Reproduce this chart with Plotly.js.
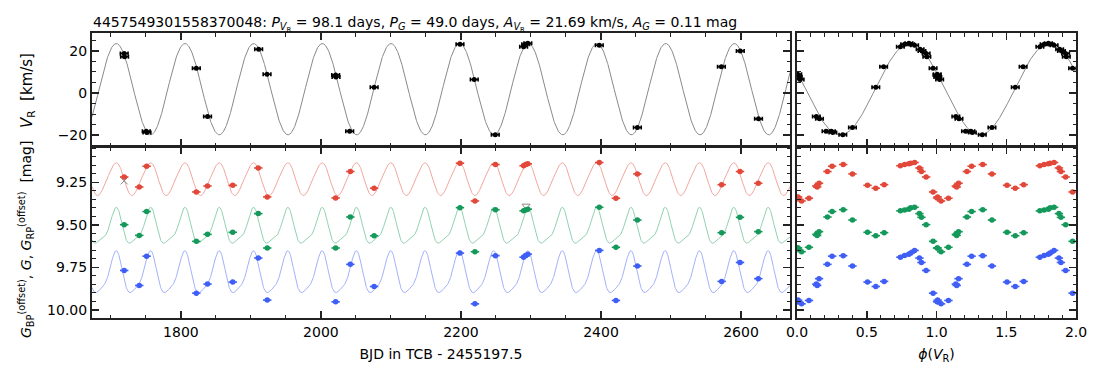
<!DOCTYPE html>
<html><head><meta charset="utf-8">
<script src="https://cdn.plot.ly/plotly-3.0.1.min.js"></script>
<style>html,body{margin:0;padding:0;background:#fff}#chart{width:1102px;height:383px}</style>
</head><body><div id="chart"></div>
<script>
// ---- data ----
const RV_TIME = [1719, 1719.5, 1750.5, 1751.5, 1822, 1838, 1911, 1923, 2021, 2021.5, 2041, 2076, 2198.6, 2219, 2249, 2289.5, 2292.5, 2295.5, 2397.6, 2452, 2572, 2599, 2625];
const RV_VALUE = [18.8, 17.2, -18.2, -18.8, 11.7, -11.2, 20.8, 8.9, 8.6, 7.6, -18.2, 2.7, 23.2, 6.4, -19.8, 22.0, 23.2, 23.6, 22.7, -16.4, 12.5, 20.0, -12.3];

const PHOT_TIME = [1719, 1740.5, 1751, 1822, 1838, 1874, 1910.5, 1923.3, 2021, 2042, 2076, 2198.6, 2220, 2249.3, 2289.5, 2292.5, 2295.5, 2397.6, 2421.4, 2452, 2572.4, 2598.6, 2624.7];
const MAG_RP = [9.219, 9.278, 9.156, 9.307, 9.272, 9.268, 9.166, 9.336, 9.342, 9.187, 9.285, 9.138, 9.360, 9.146, 9.153, 9.146, 9.142, 9.134, 9.344, 9.201, 9.264, 9.187, 9.256];
const MAG_G  = [9.499, 9.562, 9.422, 9.597, 9.556, 9.544, 9.434, 9.636, 9.636, 9.454, 9.564, 9.399, 9.658, 9.411, 9.418, 9.413, 9.408, 9.397, 9.632, 9.472, 9.546, 9.456, 9.540];
const MAG_BP = [9.768, 9.856, 9.684, 9.901, 9.848, 9.836, 9.695, 9.942, 9.952, 9.732, 9.862, 9.666, 9.964, 9.681, 9.690, 9.680, 9.672, 9.650, 9.944, 9.742, 9.832, 9.721, 9.816];

const REJ_TIME = [1719, 2293];
const REJ_MAG = [9.242, 9.389];

const P_VR = 98.1, K_VR = 21.69, GAMMA_VR = 1.8, T0 = 1922.5, PHI_PEAK = 0.81;
const P_G = 49.0, T_PEAK_G = 2000.6;
// [mean, amplitude, a2, b2, a3, b3]
const FOURIER_RP = [9.232, 0.095, 0.0, 0.08, 0.0, 0.0];
const FOURIER_G  = [9.522, 0.098, 0.25, 0.15, 0.0, 0.0];
const FOURIER_BP = [9.795, 0.118, 0.20, 0.12, 0.0, 0.0];

const X_TICKS = [1800, 2000, 2200, 2400, 2600];
const TITLE = '4457549301558370048: <i>P</i><sub><i>V</i><sub>R</sub></sub> = 98.1 days, <i>P</i><sub><i>G</i></sub> = 49.0 days, <i>A</i><sub><i>V</i><sub>R</sub></sub> = 21.69 km/s, <i>A</i><sub><i>G</i></sub> = 0.11 mag';
const YTITLE_TOP = '<i>V</i><sub>R</sub>  [km/s]';
const YTITLE_BOT = '<i>G</i><sub>BP</sub><sup>(offset)</sup>, <i>G</i>, <i>G</i><sub>RP</sub><sup>(offset)</sup>  [mag]';

const COL_RP = '#e2483a', COL_G = '#14995a', COL_BP = '#3f5ef5';
const LINE_RP = '#f2a79f', LINE_G = '#90d2b0', LINE_BP = '#a3b2fa';

// ---- helpers ----
const W = 1102, H = 383;
const px = v => v / W, py = v => 1 - v / H;
const XR = [1673, 2670];
const modelT = [];
for (let t = XR[0]; t <= XR[1]; t += 0.5) modelT.push(t);
const rvModel = t => GAMMA_VR + K_VR * Math.cos(2 * Math.PI * ((t - T0) / P_VR - PHI_PEAK));
const photModel = (f, t) => {
  const th = 2 * Math.PI * (t - T_PEAK_G) / P_G;
  return f[0] - f[1] * (Math.cos(th) + f[2] * Math.cos(2 * th) + f[3] * Math.sin(2 * th) + f[4] * Math.cos(3 * th) + f[5] * Math.sin(3 * th));
};
const phase = t => { let p = ((t - T0) / P_VR) % 1; if (p < 0) p += 1; return p; };
const twice = arr => arr.concat(arr);
const phases = ts => { const p = ts.map(phase); return p.concat(p.map(v => v + 1)); };
const phaseModelX = [];
for (let p = 0; p <= 2.0001; p += 0.005) phaseModelX.push(p);

const traces = [];
// RV model + data (time)
traces.push({x: modelT, y: modelT.map(rvModel), xaxis: 'x', yaxis: 'y', mode: 'lines', line: {color: '#8a8a8a', width: 1}, hoverinfo: 'skip'});
const rvStyle = {mode: 'markers', marker: {color: '#000', size: 5},
  error_x: {type: 'constant', value: 5.5, color: '#000', thickness: 1.6, width: 2},
  error_y: {type: 'constant', value: 0.5, color: '#000', thickness: 1, width: 0}};
traces.push(Object.assign({x: RV_TIME, y: RV_VALUE, xaxis: 'x', yaxis: 'y'}, rvStyle));
// RV phase
traces.push({x: phaseModelX, y: phaseModelX.map(p => GAMMA_VR + K_VR * Math.cos(2 * Math.PI * (p - PHI_PEAK))), xaxis: 'x3', yaxis: 'y3', mode: 'lines', line: {color: '#8a8a8a', width: 1}, hoverinfo: 'skip'});
traces.push(Object.assign({}, rvStyle, {x: phases(RV_TIME), y: twice(RV_VALUE), xaxis: 'x3', yaxis: 'y3',
  error_x: Object.assign({}, rvStyle.error_x, {value: 0.027})}));

// photometry
const bands = [[FOURIER_RP, MAG_RP, COL_RP, LINE_RP], [FOURIER_G, MAG_G, COL_G, LINE_G], [FOURIER_BP, MAG_BP, COL_BP, LINE_BP]];
bands.forEach(([f, mags, c, lc]) => {
  traces.push({x: modelT, y: modelT.map(t => photModel(f, t)), xaxis: 'x2', yaxis: 'y2', mode: 'lines', line: {color: lc, width: 1}, hoverinfo: 'skip'});
});
traces.push({x: REJ_TIME, y: REJ_MAG, xaxis: 'x2', yaxis: 'y2', mode: 'markers', marker: {symbol: ['x-thin-open', 'triangle-down-open'], size: 7, color: '#888', line: {color: '#888', width: 1}}});
bands.forEach(([f, mags, c, lc]) => {
  const st = {mode: 'markers', marker: {color: c, size: 5.5},
    error_x: {type: 'constant', value: 6, color: c, thickness: 1.6, width: 0},
    error_y: {type: 'constant', value: 0.004, color: c, thickness: 1, width: 0}};
  traces.push(Object.assign({x: PHOT_TIME, y: mags, xaxis: 'x2', yaxis: 'y2'}, st));
  traces.push(Object.assign({}, st, {x: phases(PHOT_TIME), y: twice(mags), xaxis: 'x4', yaxis: 'y4',
    error_x: Object.assign({}, st.error_x, {value: 0.03})}));
});

const FONT = {family: 'DejaVu Sans', size: 14, color: '#000'};
const base = {showline: true, linewidth: 2, linecolor: '#222', mirror: 'allticks', ticks: 'inside', ticklen: 7, tickwidth: 1.5, tickcolor: '#222',
  showgrid: false, zeroline: false, tickfont: FONT};
const minorX = d => ({dtick: d, ticks: 'inside', ticklen: 3.5, tickwidth: 1, tickcolor: '#222', showgrid: false});

const leftDom = [px(92), px(790)], rightDom = [px(797), px(1076)];
const topDom = [py(146), py(33)], botDom = [py(318), py(147)];
const VR_RANGE = [-25.2, 28.5], MAG_RANGE = [10.047, 9.043];

const layout = {
  width: W, height: H, margin: {l: 0, r: 0, t: 0, b: 0}, paper_bgcolor: '#fff', plot_bgcolor: '#fff', showlegend: false, font: FONT,
  title: {text: TITLE, x: px(93), xanchor: 'left', y: py(22), yanchor: 'middle', font: {family: 'DejaVu Sans', size: 14}},
  xaxis: Object.assign({}, base, {domain: leftDom, anchor: 'y', range: XR, tickvals: X_TICKS, showticklabels: false, minor: minorX(50)}),
  yaxis: Object.assign({}, base, {domain: topDom, anchor: 'x', range: VR_RANGE, dtick: 20, tick0: 0, minor: minorX(5)}),
  xaxis2: Object.assign({}, base, {domain: leftDom, anchor: 'y2', range: XR, tickvals: X_TICKS, minor: minorX(50),
    title: {text: 'BJD in TCB - 2455197.5', font: {family: 'DejaVu Sans', size: 14}, standoff: 10}}),
  yaxis2: Object.assign({}, base, {domain: botDom, anchor: 'x2', range: MAG_RANGE, dtick: 0.25, tick0: 0, tickformat: '.2f', minor: minorX(0.05)}),
  xaxis3: Object.assign({}, base, {domain: rightDom, anchor: 'y3', range: [0, 2], dtick: 0.5, tick0: 0, showticklabels: false, minor: minorX(0.1)}),
  yaxis3: Object.assign({}, base, {domain: topDom, anchor: 'x3', range: VR_RANGE, dtick: 20, tick0: 0, showticklabels: false, minor: minorX(5)}),
  xaxis4: Object.assign({}, base, {domain: rightDom, anchor: 'y4', range: [0, 2], dtick: 0.5, tick0: 0, tickformat: '.1f', minor: minorX(0.1),
    title: {text: '<i>ϕ</i>(<i>V</i><sub>R</sub>)', font: {family: 'DejaVu Sans', size: 14}, standoff: 10}}),
  yaxis4: Object.assign({}, base, {domain: botDom, anchor: 'x4', range: MAG_RANGE, dtick: 0.25, tick0: 0, showticklabels: false, minor: minorX(0.05)}),
  annotations: [
    {text: YTITLE_TOP, x: px(28), y: py(91), xref: 'paper', yref: 'paper', xanchor: 'center', yanchor: 'middle', textangle: -90, showarrow: false, font: {family: 'DejaVu Sans', size: 15, color: '#000'}},
    {text: YTITLE_BOT, x: px(26), y: py(240), xref: 'paper', yref: 'paper', xanchor: 'center', yanchor: 'middle', textangle: -90, showarrow: false, font: {family: 'DejaVu Sans', size: 14, color: '#000'}}
  ]
};

Plotly.newPlot('chart', traces, layout, {staticPlot: true});
</script></body></html>
